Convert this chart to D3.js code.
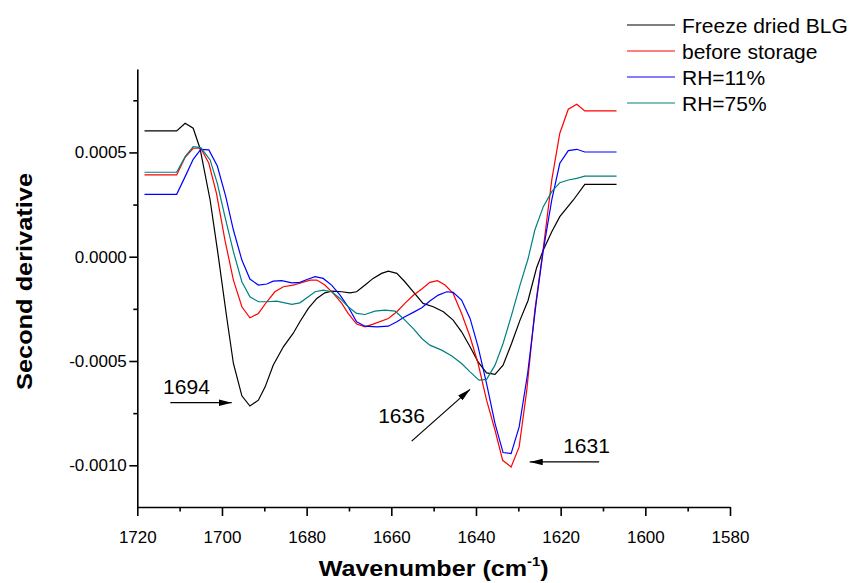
<!DOCTYPE html>
<html>
<head>
<meta charset="utf-8">
<script src="https://cdn.jsdelivr.net/npm/d3@7"></script>
<style>
  body { margin: 0; background: #fff; }
  svg { font-family: "Liberation Sans", Arial, sans-serif; }
</style>
</head>
<body>
<div id="chart"></div>
<script>
// [wavenumber, second derivative]
var freezeDried = [
  [1718.3, 6.03e-4], [1710.7, 6.03e-4], [1708.7, 6.40e-4], [1706.8, 6.16e-4], [1705.2, 5.20e-4],
  [1702.8, 2.72e-4], [1700.9, 0.08e-4], [1698.9, -2.88e-4], [1697.3, -5.12e-4], [1695.3, -6.67e-4],
  [1693.4, -7.16e-4], [1691.4, -6.88e-4], [1689.8, -6.24e-4], [1687.9, -5.20e-4], [1685.5, -4.32e-4],
  [1683.2, -3.68e-4], [1681.6, -3.12e-4], [1679.6, -2.48e-4], [1677.6, -2.00e-4], [1675.7, -1.73e-4],
  [1674.1, -1.65e-4], [1671.7, -1.68e-4], [1669.8, -1.73e-4], [1668.2, -1.68e-4], [1666.2, -1.36e-4],
  [1664.3, -1.04e-4], [1662.3, -0.80e-4], [1660.7, -0.69e-4], [1658.7, -0.80e-4], [1656.8, -1.20e-4],
  [1654.8, -1.69e-4], [1652.5, -2.24e-4], [1650.1, -2.40e-4], [1647.7, -2.64e-4], [1645.4, -3.04e-4],
  [1643.4, -3.60e-4], [1641.4, -4.32e-4], [1639.5, -5.04e-4], [1637.5, -5.57e-4], [1635.5, -5.64e-4],
  [1633.6, -5.20e-4], [1631.6, -4.16e-4], [1629.6, -3.04e-4], [1627.7, -2.10e-4], [1625.7, -0.54e-4],
  [1624.1, 0.32e-4], [1622.1, 1.20e-4], [1620.2, 1.92e-4], [1617.0, 2.72e-4], [1614.3, 3.47e-4],
  [1606.8, 3.47e-4]
];

var beforeStorage = [
  [1718.3, 3.92e-4], [1710.7, 3.92e-4], [1708.7, 4.77e-4], [1706.8, 5.20e-4], [1705.0, 5.20e-4],
  [1703.1, 4.48e-4], [1701.3, 3.04e-4], [1699.3, 0.80e-4], [1697.3, -1.12e-4], [1695.3, -2.40e-4],
  [1693.4, -2.93e-4], [1691.4, -2.72e-4], [1689.4, -2.16e-4], [1687.5, -1.68e-4], [1685.5, -1.44e-4],
  [1683.2, -1.36e-4], [1681.2, -1.25e-4], [1679.2, -1.12e-4], [1677.6, -1.12e-4], [1675.7, -1.36e-4],
  [1673.7, -1.76e-4], [1671.7, -2.24e-4], [1670.2, -2.72e-4], [1668.2, -3.23e-4], [1666.2, -3.36e-4],
  [1664.3, -3.23e-4], [1660.7, -2.96e-4], [1658.7, -2.64e-4], [1656.8, -2.24e-4], [1654.8, -1.85e-4],
  [1652.8, -1.55e-4], [1650.9, -1.23e-4], [1649.1, -1.15e-4], [1647.3, -1.36e-4], [1645.4, -1.76e-4],
  [1643.4, -2.72e-4], [1641.4, -3.84e-4], [1639.5, -5.12e-4], [1637.5, -6.88e-4], [1635.5, -8.32e-4],
  [1633.7, -9.76e-4], [1631.7, -10.08e-4], [1629.8, -9.12e-4], [1628.0, -6.40e-4], [1626.1, -2.56e-4],
  [1624.1, 0.40e-4], [1622.1, 3.68e-4], [1620.2, 5.92e-4], [1618.2, 7.07e-4], [1616.2, 7.31e-4],
  [1614.3, 6.99e-4], [1606.8, 6.99e-4]
];

var rh11 = [
  [1718.3, 2.99e-4], [1710.7, 2.99e-4], [1708.7, 3.84e-4], [1706.8, 4.67e-4], [1705.0, 5.15e-4],
  [1703.1, 5.12e-4], [1701.1, 4.35e-4], [1699.1, 2.88e-4], [1697.3, 1.28e-4], [1695.3, -0.16e-4],
  [1693.4, -1.07e-4], [1691.4, -1.36e-4], [1689.4, -1.31e-4], [1687.9, -1.17e-4], [1685.9, -1.15e-4],
  [1683.5, -1.25e-4], [1681.6, -1.23e-4], [1679.6, -1.07e-4], [1678.0, -0.96e-4], [1676.1, -1.04e-4],
  [1674.1, -1.36e-4], [1672.1, -1.84e-4], [1670.2, -2.40e-4], [1668.2, -3.12e-4], [1666.2, -3.33e-4],
  [1663.5, -3.36e-4], [1660.7, -3.33e-4], [1658.7, -3.12e-4], [1656.8, -2.88e-4], [1654.8, -2.67e-4],
  [1652.8, -2.45e-4], [1650.9, -2.12e-4], [1648.9, -1.84e-4], [1646.9, -1.68e-4], [1645.4, -1.71e-4],
  [1643.4, -2.08e-4], [1641.4, -2.96e-4], [1639.5, -4.32e-4], [1637.5, -6.08e-4], [1635.5, -8.00e-4],
  [1633.6, -9.39e-4], [1631.7, -9.44e-4], [1629.8, -8.16e-4], [1627.8, -5.60e-4], [1625.8, -2.24e-4],
  [1624.1, 0.32e-4], [1622.1, 2.72e-4], [1620.2, 4.48e-4], [1618.2, 5.09e-4], [1616.2, 5.15e-4],
  [1614.3, 5.02e-4], [1606.8, 5.02e-4]
];

var rh75 = [
  [1718.3, 4.05e-4], [1710.7, 4.05e-4], [1708.7, 4.80e-4], [1706.8, 5.28e-4], [1705.0, 5.23e-4],
  [1702.8, 4.64e-4], [1701.1, 3.52e-4], [1699.3, 1.92e-4], [1697.3, 0.24e-4], [1695.3, -1.20e-4],
  [1693.4, -1.92e-4], [1691.4, -2.16e-4], [1689.4, -2.16e-4], [1687.1, -2.13e-4], [1683.5, -2.28e-4],
  [1681.6, -2.21e-4], [1679.6, -1.92e-4], [1678.0, -1.68e-4], [1676.1, -1.60e-4], [1674.1, -1.68e-4],
  [1672.1, -2.00e-4], [1670.2, -2.40e-4], [1668.2, -2.72e-4], [1666.2, -2.77e-4], [1663.9, -2.61e-4],
  [1661.5, -2.56e-4], [1659.1, -2.61e-4], [1657.2, -2.96e-4], [1654.8, -3.45e-4], [1652.8, -3.92e-4],
  [1650.9, -4.24e-4], [1648.1, -4.48e-4], [1645.7, -4.76e-4], [1643.4, -5.12e-4], [1641.4, -5.52e-4],
  [1639.3, -5.92e-4], [1637.5, -5.88e-4], [1635.5, -5.20e-4], [1633.6, -4.16e-4], [1631.6, -2.80e-4],
  [1629.6, -1.36e-4], [1627.7, -0.10e-4], [1626.1, 1.28e-4], [1624.1, 2.40e-4], [1622.1, 3.12e-4],
  [1620.2, 3.55e-4], [1618.2, 3.68e-4], [1616.2, 3.76e-4], [1614.3, 3.86e-4], [1606.8, 3.86e-4]
];

var seriesNames = ["Freeze dried BLG", "before storage", "RH=11%", "RH=75%"];
var seriesColors = ["#000000", "#ff0000", "#0000ff", "#008080"];
var seriesData = [freezeDried, beforeStorage, rh11, rh75];

var xMajorTicks = [1720, 1700, 1680, 1660, 1640, 1620, 1600, 1580];
var xMinorTicks = [1710, 1690, 1670, 1650, 1630, 1610, 1590];
var yMajorTicks = [-0.0010, -0.0005, 0.0000, 0.0005];
var yMinorTicks = [-0.00075, -0.00025, 0.00025, 0.00075];

// peak annotations: arrow from -> to, label at text position (data coords)
var peakLabels = ["1694", "1636", "1631"];
var peakArrowFrom = [[1712.2, -7.0e-4], [1655.2, -8.84e-4], [1610.9, -9.84e-4]];
var peakArrowTo = [[1697.7, -7.0e-4], [1641.4, -6.36e-4], [1627.3, -9.84e-4]];
var peakTextPos = [[1713.9, -6.59e-4], [1663.1, -7.99e-4], [1619.4, -9.43e-4]];

var W = 852, H = 583;
var margin = {top: 69, right: 122, bottom: 76, left: 137.3};

var svg = d3.select("#chart").append("svg")
    .attr("width", W)
    .attr("height", H);

var x = d3.scaleLinear()
    .domain([1720, 1580])
    .range([margin.left, 730]);

var y = d3.scaleLinear()
    .domain([-0.0012, 0.0009])
    .range([H - margin.bottom - 0, margin.top]);

var fmt = function(d) { return d3.format(".4f")(d).replace("\u2212", "-"); };

// x axis
var xAxis = svg.append("g")
    .attr("transform", "translate(0," + y.range()[0] + ")")
    .call(d3.axisBottom(x).tickValues(xMajorTicks).tickSize(9).tickSizeOuter(0)
      .tickPadding(14.6).tickFormat(d3.format("d")));
svg.append("g")
    .attr("transform", "translate(0," + y.range()[0] + ")")
    .call(d3.axisBottom(x).tickValues(xMinorTicks).tickSize(4.5).tickSizeOuter(0).tickFormat(""))
    .select(".domain").remove();

// y axis
var yAxis = svg.append("g")
    .attr("transform", "translate(" + margin.left + ",0)")
    .call(d3.axisLeft(y).tickValues(yMajorTicks).tickSize(8).tickSizeOuter(0)
      .tickPadding(2.5).tickFormat(fmt));
svg.append("g")
    .attr("transform", "translate(" + margin.left + ",0)")
    .call(d3.axisLeft(y).tickValues(yMinorTicks).tickSize(4).tickSizeOuter(0).tickFormat(""))
    .select(".domain").remove();

svg.selectAll(".domain, .tick line")
    .attr("stroke", "#000")
    .attr("stroke-width", 1.6);
svg.selectAll(".tick text")
    .attr("fill", "#000")
    .style("font-size", "17px")
    .style("font-family", "'Liberation Sans', Arial, sans-serif");

// curves
var line = d3.line()
    .x(function(d) { return x(d[0]); })
    .y(function(d) { return y(d[1]); });

svg.append("g").selectAll("path")
    .data(seriesData)
    .enter()
    .append("path")
      .attr("d", line)
      .attr("fill", "none")
      .attr("stroke", function(d, i) { return seriesColors[i]; })
      .attr("stroke-width", 1.2);

// legend
var legend = svg.append("g");
seriesNames.forEach(function(name, i) {
  var ly = 25 + i * 26;
  legend.append("line")
      .attr("x1", 627).attr("x2", 675)
      .attr("y1", ly).attr("y2", ly)
      .attr("stroke", seriesColors[i])
      .attr("stroke-width", 1.2);
  legend.append("text")
      .attr("x", 682).attr("y", ly + 7.5)
      .style("font-size", "21px")
      .text(name);
});

// arrows
var defs = svg.append("defs");
defs.append("marker")
    .attr("id", "arrow")
    .attr("viewBox", "0 0 12 6")
    .attr("refX", 12).attr("refY", 3)
    .attr("markerWidth", 13).attr("markerHeight", 6.5)
    .attr("markerUnits", "userSpaceOnUse")
    .attr("orient", "auto")
  .append("path")
    .attr("d", "M0,0L12,3L0,6Z")
    .attr("fill", "#000");

peakLabels.forEach(function(lab, i) {
  svg.append("line")
      .attr("x1", x(peakArrowFrom[i][0])).attr("y1", y(peakArrowFrom[i][1]))
      .attr("x2", x(peakArrowTo[i][0])).attr("y2", y(peakArrowTo[i][1]))
      .attr("stroke", "#000")
      .attr("stroke-width", 1.2)
      .attr("marker-end", "url(#arrow)");
  svg.append("text")
      .attr("x", x(peakTextPos[i][0]))
      .attr("y", y(peakTextPos[i][1]))
      .style("font-size", "21px")
      .text(lab);
});

// axis titles
var xTitle = svg.append("text")
    .attr("x", (x.range()[0] + x.range()[1]) / 2)
    .attr("y", 576)
    .attr("text-anchor", "middle")
    .style("font-size", "22px")
    .style("font-weight", "bold")
    .attr("textLength", 230)
    .attr("lengthAdjust", "spacingAndGlyphs");
xTitle.append("tspan").text("Wavenumber (cm");
xTitle.append("tspan").attr("dy", -10).style("font-size", "13px").text("-1");
xTitle.append("tspan").attr("dy", 10).text(")");

svg.append("text")
    .attr("transform", "translate(31.5,281.5) rotate(-90)")
    .attr("text-anchor", "middle")
    .style("font-size", "22px")
    .style("font-weight", "bold")
    .attr("textLength", 217)
    .attr("lengthAdjust", "spacingAndGlyphs")
    .text("Second derivative");
</script>
</body>
</html>
